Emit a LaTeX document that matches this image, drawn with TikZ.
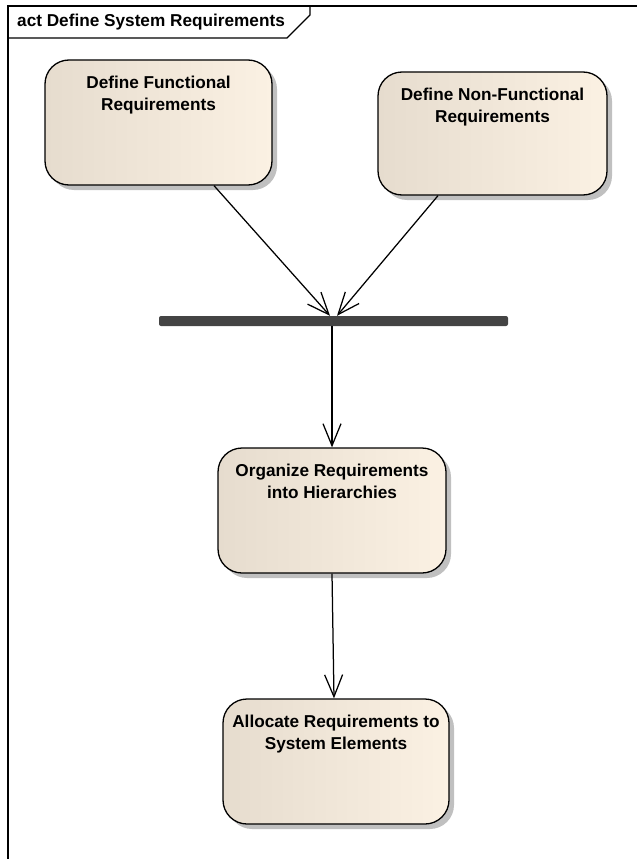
\documentclass[tikz,border=0pt]{standalone}
\usepackage{fontspec}
\setmainfont{Liberation Sans}
\usetikzlibrary{arrows.meta,shadows}

\definecolor{actleft}{RGB}{230,220,206}
\definecolor{actright}{RGB}{251,241,227}
\definecolor{actshadow}{RGB}{192,192,192}
\definecolor{barfill}{RGB}{68,68,68}

\tikzset{
  labelfont/.style={font=\fontsize{17.2}{22}\selectfont\bfseries},
  actbox/.style={draw=black, line width=1.3pt, rounded corners=24pt,
    left color=actleft, right color=actright, inner sep=0pt,
    drop shadow={shadow xshift=5pt, shadow yshift=-5pt, fill=actshadow, opacity=1}},
  acttext/.style={anchor=north, yshift=-16.5pt, align=center, inner sep=0pt, labelfont},
  flow/.style={draw=black, line width=1.25pt,
    -{Straight Barb[length=22pt, width=18pt, line width=1.25pt]}},
  joinbar/.style={fill=barfill, draw=none, rounded corners=2pt, inner sep=0pt,
    minimum width=349pt, minimum height=10pt},
  framepen/.style={draw=black, line width=1.2pt}
}

\begin{document}
\begin{tikzpicture}[x=1pt, y=-1pt]
  \useasboundingbox (0,0) rectangle (637,859);

  % diagram frame with its name tab
  \draw[framepen] (8,859) -- (8,6) -- (637,6);
  \draw[framepen] (8,38) -- (287,38) -- (310,15) -- (310,6);
  \node[labelfont, anchor=base west, inner sep=0pt] (title) at (17,27)
    {act Define System Requirements};

  % actions
  \node[actbox, minimum width=227pt, minimum height=125pt,
        label={[acttext]north:{Define Functional\\Requirements}}]
        (func) at (158.5,122.5) {};
  \node[actbox, minimum width=229pt, minimum height=123pt,
        label={[acttext]north:{Define Non-Functional\\Requirements}}]
        (nonfunc) at (492.5,133.5) {};
  \node[actbox, minimum width=228pt, minimum height=125pt,
        label={[acttext]north:{Organize Requirements\\into Hierarchies}}]
        (organize) at (332,510.5) {};
  \node[actbox, minimum width=226pt, minimum height=125pt,
        label={[acttext]north:{Allocate Requirements to\\System Elements}}]
        (allocate) at (336,761.5) {};

  % join bar
  \node[joinbar] (join) at (333.5,321) {};

  % control flows
  \draw[flow] ([xshift=55.5pt]func.south) -- ([xshift=-3.5pt]join.north);
  \draw[flow] ([xshift=-54.5pt]nonfunc.south) -- ([xshift=3.5pt]join.north);
  \draw[flow] ([xshift=-1.5pt]join.south) -- (organize.north);
  \draw[flow] (organize.south) -- ([xshift=-2pt]allocate.north);
\end{tikzpicture}
\end{document}
